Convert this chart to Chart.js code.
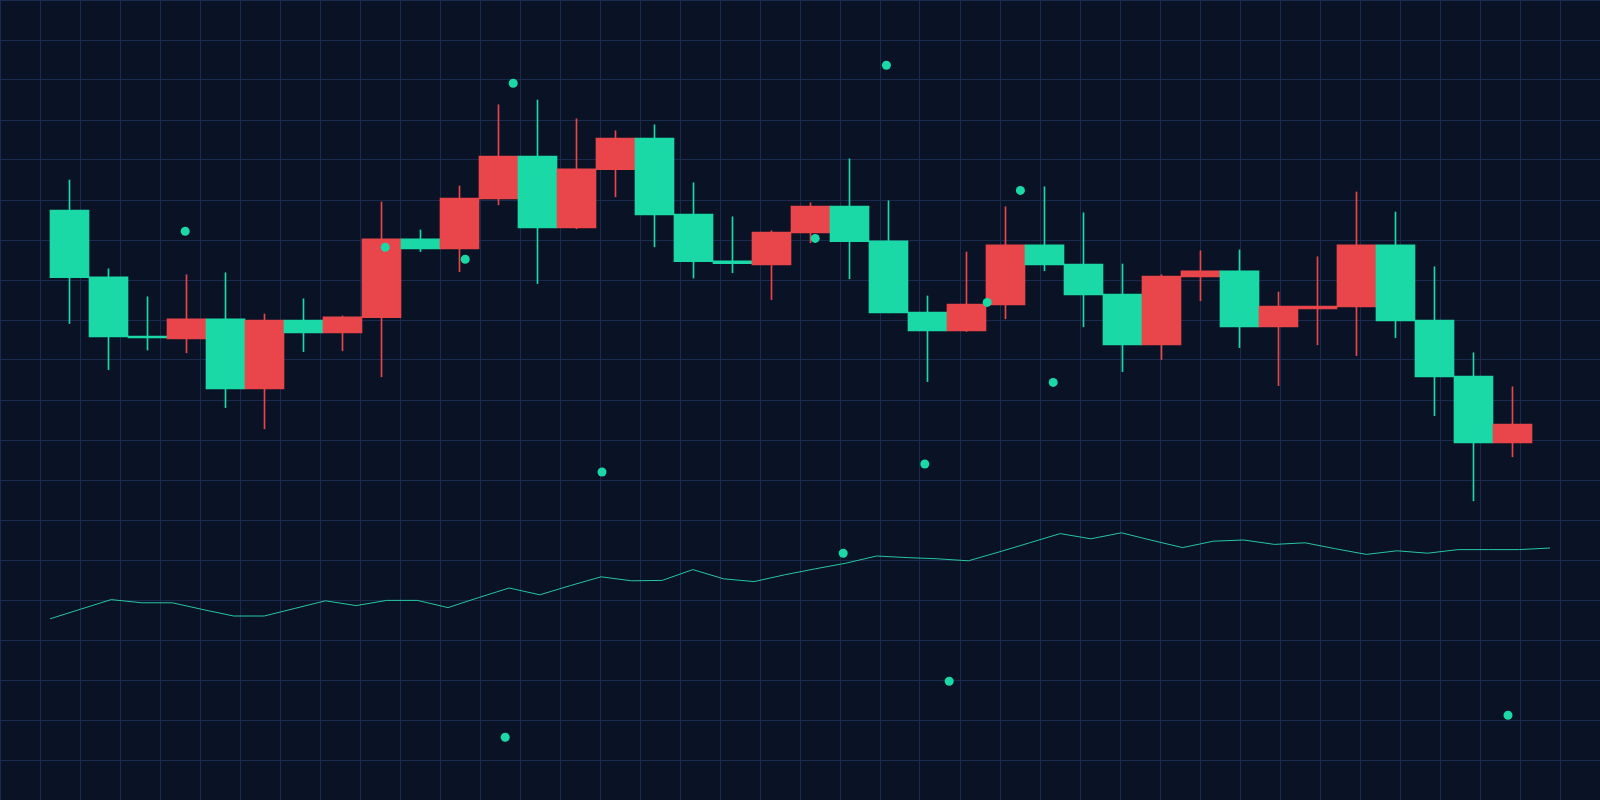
<!DOCTYPE html>
<html>
<head>
<meta charset="utf-8">
<script src="https://cdn.jsdelivr.net/npm/chart.js@4.4.1/dist/chart.umd.min.js"></script>
<style>
	html, body { margin: 0; padding: 0; background: #0a1226; }
	#wrap { width: 1600px; height: 800px; position: relative; }
</style>
</head>
<body>
<div id="wrap"><canvas id="chart"></canvas></div>
<script>
// DATA
const opens = [147.5, 130.8, 116, 115.3, 120.3, 102.8, 120, 116.8, 120.6, 140.3, 137.8, 150.3, 161, 143, 157.6, 165.5, 146.5, 134.8, 133.8, 141.8,
	148.5, 139.8, 122, 117.3, 123.8, 138.8, 134, 126.5, 113.8, 130.8, 132.3, 118.3, 122.8, 123.3, 138.8, 120, 106, 89.3];
const closes = [130.6, 115.8, 115.5, 120.3, 102.8, 120, 116.8, 120.8, 140.3, 137.8, 150.5, 161, 143, 157.8, 165.5, 146.3, 134.6, 134.1, 142, 148.5,
	139.6, 121.8, 117.3, 124, 138.8, 133.8, 126.3, 113.8, 131, 132.3, 118.3, 123.5, 123.5, 138.8, 119.8, 105.8, 89.3, 94];
const highs = [155, 132.8, 125.8, 131.3, 131.8, 121.5, 125.3, 121, 149.5, 142.5, 153.5, 173.8, 175, 170.3, 167.3, 168.8, 154.3, 145.8, 142.3, 149.3,
	160.3, 149.8, 126, 137, 148.3, 153.3, 146.8, 134, 131.3, 137.3, 137.5, 127, 135.8, 152, 147, 133.3, 111.8, 103.3];
const lows = [119.1, 107.6, 112.5, 111.8, 98.1, 92.8, 112.1, 112.3, 105.8, 137.1, 132.1, 148.8, 129.1, 142.8, 150.8, 138.3, 130.5, 131.8, 125.1, 139.3,
	130.3, 121.8, 104.6, 117.1, 120.3, 132.3, 118.3, 107.1, 110.1, 124.8, 113.1, 103.6, 113.8, 111.1, 115.6, 96.1, 74.8, 85.8];

const lineValues = [45.3, 47.7, 50.1, 49.3, 49.3, 47.6, 46, 46, 47.9, 49.8, 48.6, 49.9, 49.9, 48.1, 50.6, 53, 51.3, 53.6, 55.8, 54.8,
	54.9, 57.6, 55.3, 54.6, 56.3, 57.8, 59.2, 61, 60.6, 60.3, 59.8, 62, 64.3, 66.6, 65.3, 66.8, 64.9, 63.1, 64.7, 65,
	63.9, 64.3, 62.8, 61.4, 62.3, 61.7, 62.6, 62.6, 62.6, 63];

const dotX = [4.63, 9.63, 11.63, 12.83, 15.05, 12.63, 20.38, 21.08, 22.16, 23.12, 23.73, 24.68, 25.51, 26.33, 37.7];
const dotY = [142.2, 138.2, 135.2, 179.2, 82, 15.7, 140.4, 61.7, 183.7, 84, 29.7, 124.4, 152.4, 104.4, 21.2];

// COLORS
const UP = "#e8464a";
const DOWN = "#1bd9a6";
const GRID = "#1b2b4f";

const candleColors = opens.map((o, i) => (closes[i] > o ? UP : DOWN));

const main = () => {
	const ctx = document.getElementById("chart").getContext("2d");
	new Chart(ctx, {
		data: {
			datasets: [
				{
					type: "bar",
					label: "wicks",
					xAxisID: "xc",
					data: lows.map((l, i) => ({ x: i, y: [l, highs[i]] })),
					backgroundColor: candleColors,
					barThickness: 1,
					grouped: false,
					order: 3,
				},
				{
					type: "bar",
					label: "bodies",
					xAxisID: "xc",
					data: opens.map((o, i) => ({ x: i, y: [o, closes[i]] })),
					backgroundColor: candleColors,
					categoryPercentage: 1,
					barPercentage: 1,
					grouped: false,
					order: 2,
				},
				{
					type: "line",
					label: "trend",
					xAxisID: "xl",
					data: lineValues.map((v, i) => ({ x: i, y: v })),
					borderColor: "#27c7a1",
					borderWidth: 1,
					pointRadius: 0,
					tension: 0,
					order: 1,
				},
				{
					type: "scatter",
					label: "dots",
					xAxisID: "x",
					data: dotX.map((x, i) => ({ x, y: dotY[i] })),
					backgroundColor: DOWN,
					borderWidth: 0,
					pointRadius: 4.5,
					order: 0,
				},
			],
		},
		options: {
			responsive: true,
			maintainAspectRatio: false,
			animation: false,
			events: [],
			layout: { padding: 0, autoPadding: false },
			plugins: {
				legend: { display: false },
				tooltip: { enabled: false },
			},
			scales: {
				x: {
					type: "linear",
					min: 0,
					max: 40,
					offset: false,
					ticks: { display: false, stepSize: 1 },
					grid: { color: GRID, lineWidth: 1, drawTicks: false, offset: false },
					border: { display: false },
				},
				xc: {
					type: "linear",
					display: false,
					offset: false,
					min: -1.782,
					max: 39.244,
				},
				xl: {
					type: "linear",
					display: false,
					offset: false,
					min: -1.633,
					max: 50.633,
				},
				y: {
					type: "linear",
					min: 0,
					max: 200,
					ticks: { display: false, stepSize: 10 },
					grid: { color: GRID, lineWidth: 1, drawTicks: false },
					border: { display: false },
				},
			},
		},
	});
};

main();
</script>
</body>
</html>
